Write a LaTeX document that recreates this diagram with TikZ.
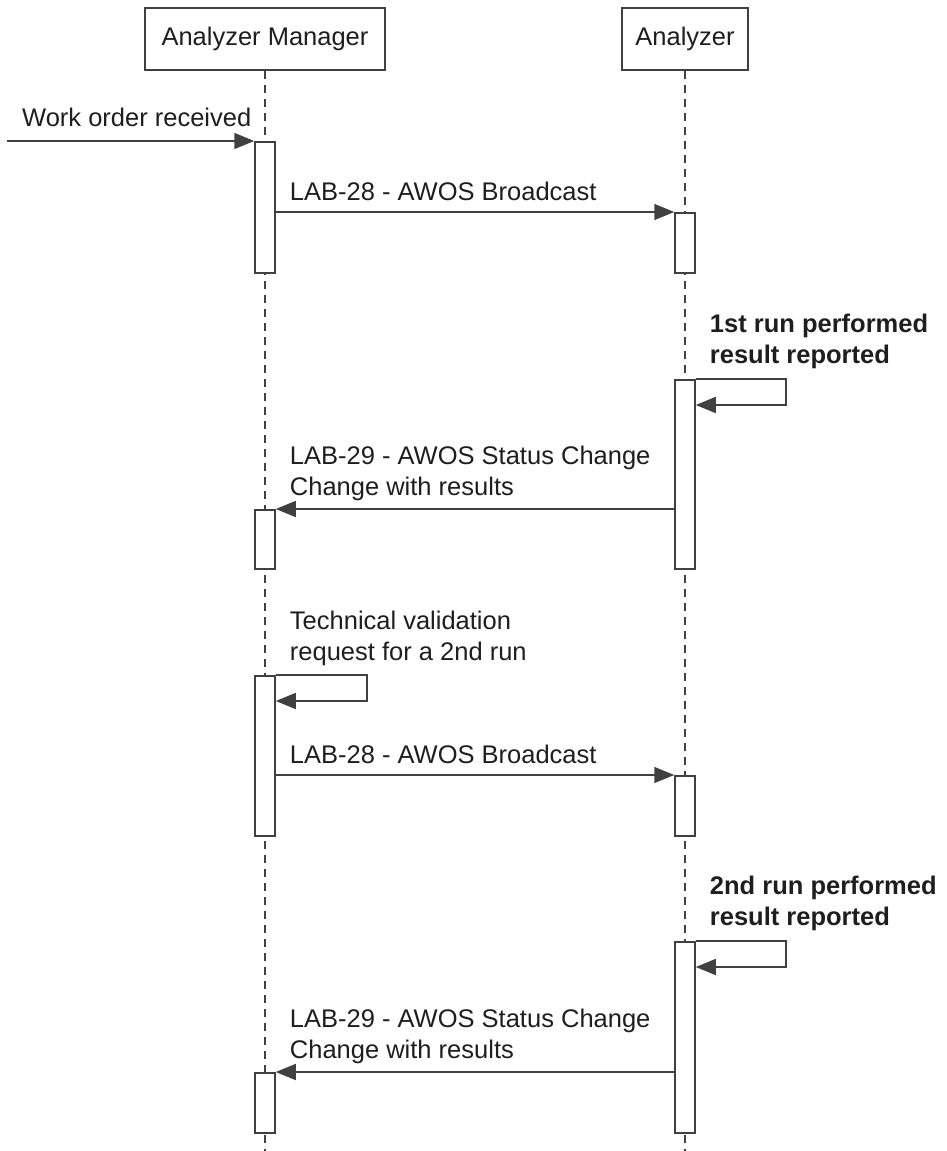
\documentclass[tikz,border=0pt]{standalone}
\usepackage{fontspec}
\setmainfont{Liberation Sans}
\usetikzlibrary{arrows.meta,positioning,calc}
\definecolor{linegray}{RGB}{64,64,64}
\definecolor{textgray}{RGB}{30,30,30}

\begin{document}
\begin{tikzpicture}[x=1pt,y=-1pt,
    every node/.style={font=\fontsize{25.5}{31}\selectfont, text=textgray},
    head/.style={draw=linegray, line width=1.5pt, minimum height=62pt, inner sep=0pt},
    bar/.style={draw=linegray, line width=1.5pt, fill=white, minimum width=20pt,
                minimum height=#1, anchor=north, inner sep=0pt},
    life/.style={draw=linegray, line width=1.3pt, dash pattern=on 8pt off 6pt},
    msg/.style={draw=linegray, line width=1.5pt, -{Triangle[length=20pt,width=16pt]}},
    lbl/.style={inner sep=0pt, align=left, anchor=base west},
    note/.style={lbl, font=\fontsize{25.5}{31}\selectfont\bfseries}]
    \useasboundingbox (0,0) rectangle (947,1151);

    % lifelines
    \node[head, minimum width=240pt] (mgr) at (265,39) {Analyzer Manager};
    \node[head, minimum width=126pt] (anl) at (685,39) {Analyzer};
    \coordinate (bottom) at (0,1151);
    \draw[life] (mgr.south) -- (mgr.south |- bottom);
    \draw[life] (anl.south) -- (anl.south |- bottom);

    % activations
    \node[bar=131pt] (m_1) at (mgr.south |- 0,141)  {};
    \node[bar=60pt]  (a_1) at (anl.south |- 0,212)  {};
    \node[bar=189pt] (a_2) at (anl.south |- 0,379)  {};
    \node[bar=59pt]  (m_2) at (mgr.south |- 0,509)  {};
    \node[bar=160pt] (m_3) at (mgr.south |- 0,675)  {};
    \node[bar=60pt]  (a_3) at (anl.south |- 0,775)  {};
    \node[bar=191pt] (a_4) at (anl.south |- 0,941)  {};
    \node[bar=60pt]  (m_4) at (mgr.south |- 0,1072) {};

    % messages
    \coordinate (src) at (7,141);
    \draw[msg] (src) -- (m_1.north west);
    \draw[msg] (m_1.east |- a_1.north) -- (a_1.north west);
    \draw[msg] (a_2.north east) -- ++(90,0) -- ++(0,26) -- ++(-90,0);
    \draw[msg] (a_2.west |- m_2.north) -- (m_2.north east);
    \draw[msg] (m_3.north east) -- ++(91,0) -- ++(0,26) -- ++(-91,0);
    \draw[msg] (m_3.east |- a_3.north) -- (a_3.north west);
    \draw[msg] (a_4.north east) -- ++(90,0) -- ++(0,26) -- ++(-90,0);
    \draw[msg] (a_4.west |- m_4.north) -- (m_4.north east);

    % labels
    \node[lbl] (l_0) at ($(src)+(15,-15)$) {Work order received};
    \node[lbl] (l_1) at ($(m_1.east |- a_1.north)+(14,-12)$) {LAB-28 - AWOS Broadcast};
    \node[note, anchor=south west] (l_2) at ($(a_2.north east)+(14,-10)$)
        {1st run performed\\result reported};
    \node[lbl, anchor=south west] (l_3) at ($(m_2.north east)+(14,-8)$)
        {LAB-29 - AWOS Status Change\\Change with results};
    \node[lbl, anchor=south west] (l_4) at ($(m_3.north east)+(14,-9)$)
        {Technical validation\\request for a 2nd run};
    \node[lbl] (l_5) at ($(m_3.east |- a_3.north)+(14,-12)$) {LAB-28 - AWOS Broadcast};
    \node[note, anchor=south west] (l_6) at ($(a_4.north east)+(14,-10)$)
        {2nd run performed\\result reported};
    \node[lbl, anchor=south west] (l_7) at ($(m_4.north east)+(14,-8)$)
        {LAB-29 - AWOS Status Change\\Change with results};
\end{tikzpicture}
\end{document}
